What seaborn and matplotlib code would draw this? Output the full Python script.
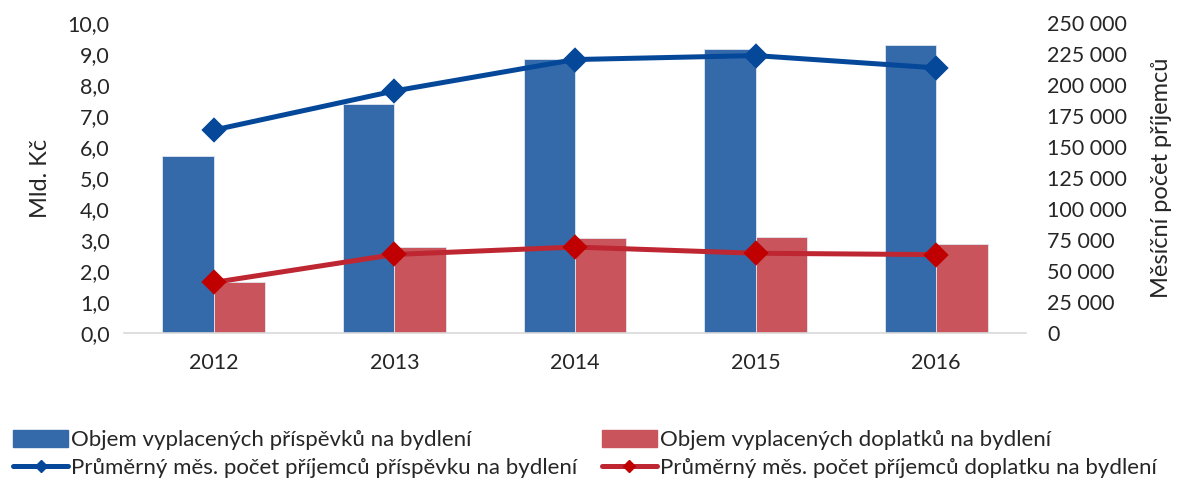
import matplotlib
matplotlib.use("Agg")
import matplotlib.pyplot as plt
import seaborn as sns
import pandas as pd
from matplotlib.ticker import FuncFormatter, MultipleLocator
from matplotlib.lines import Line2D
from matplotlib.patches import Patch

years = ["2012", "2013", "2014", "2015", "2016"]
prispevek_objem = [5.71, 7.39, 8.85, 9.17, 9.28]
doplatek_objem = [1.64, 2.77, 3.08, 3.11, 2.89]
prispevek_pocet = [163700, 195200, 220500, 223700, 213800]
doplatek_pocet = [40900, 63400, 69400, 64400, 63300]

lab_bar1 = "Objem vyplacených příspěvků na bydlení"
lab_bar2 = "Objem vyplacených doplatků na bydlení"
lab_line1 = "Průměrný měs. počet příjemců příspěvku na bydlení"
lab_line2 = "Průměrný měs. počet příjemců doplatku na bydlení"

sns.set_theme(style="white")
plt.rcParams["font.family"] = ["Lato", "DejaVu Sans"]

c_bar1 = "#346AA9"
c_bar2 = "#C9545B"
c_line1 = "#05489A"
c_line2 = "#BE2631"
c_mk2 = "#C00000"

bars = pd.DataFrame({
    "rok": years * 2,
    "hodnota": prispevek_objem + doplatek_objem,
    "serie": [lab_bar1] * 5 + [lab_bar2] * 5,
})
lines = pd.DataFrame({
    "rok": years * 2,
    "hodnota": prispevek_pocet + doplatek_pocet,
    "serie": [lab_line1] * 5 + [lab_line2] * 5,
})

fig = plt.figure(figsize=(11.77, 4.78), dpi=100)
ax = fig.add_axes([0.105, 0.303, 0.767, 0.649])
sns.barplot(data=bars, x="rok", y="hodnota", hue="serie", order=years,
            palette=[c_bar1, c_bar2], saturation=1, width=0.57, gap=0, ax=ax,
            legend=False, linewidth=0.6, edgecolor="#e0e6f0")
ax.set_ylim(0, 10)
ax.set_xlim(-0.5, 4.5)
ax.yaxis.set_major_locator(MultipleLocator(1))
ax.yaxis.set_major_formatter(FuncFormatter(lambda v, p: f"{v:.1f}".replace(".", ",")))
ax.set_xlabel("")
ax.set_ylabel("Mld. Kč", fontsize=17, labelpad=12)
ax.tick_params(axis="both", labelsize=15.5, length=0)
ax.tick_params(axis="y", pad=10)
ax.tick_params(axis="x", pad=14)
for s in ["top", "right", "left"]:
    ax.spines[s].set_visible(False)
ax.spines["bottom"].set_color("#d9d9d9")
ax.spines["bottom"].set_linewidth(1.2)

ax2 = ax.twinx()
sns.pointplot(data=lines, x="rok", y="hodnota", hue="serie", order=years,
              palette=[c_line1, c_line2], markers=["D", "D"], linestyles=["-", "-"],
              ax=ax2, legend=False, linewidth=3.6, markersize=10, errorbar=None)
ax2.set_ylim(0, 250000)
ax2.set_xlim(-0.5, 4.5)
ax2.yaxis.set_major_locator(MultipleLocator(25000))
ax2.yaxis.set_major_formatter(FuncFormatter(lambda v, p: f"{int(v):,}".replace(",", " ")))
ax2.set_ylabel("Měsíční počet příjemců", fontsize=17, labelpad=17)
ax2.tick_params(axis="y", labelsize=15.5, length=0, pad=15)
for s in ["top", "right", "left", "bottom"]:
    ax2.spines[s].set_visible(False)
for ln in ax2.lines:
    if matplotlib.colors.to_hex(ln.get_color()).upper() == c_line2:
        ln.set_markerfacecolor(c_mk2)
        ln.set_markeredgecolor(c_mk2)

handles = [
    Patch(facecolor=c_bar1, edgecolor=c_bar1),
    Line2D([0], [0], color=c_line1, lw=3.6, marker="D", markersize=6),
    Patch(facecolor=c_bar2, edgecolor=c_bar2),
    Line2D([0], [0], color=c_line2, lw=3.6, marker="D", markersize=6,
           markerfacecolor=c_mk2, markeredgecolor=c_mk2),
]
labels = [lab_bar1, lab_line1, lab_bar2, lab_line2]
fig.legend(handles, labels, ncol=2, loc="lower left", bbox_to_anchor=(0.008, -0.008),
           borderaxespad=0, borderpad=0.15,
           frameon=False, fontsize=16, handlelength=2.5, handleheight=0.8,
           handletextpad=0.12, columnspacing=1.1, labelspacing=0.35)

fig.savefig("out.png", dpi=100)
